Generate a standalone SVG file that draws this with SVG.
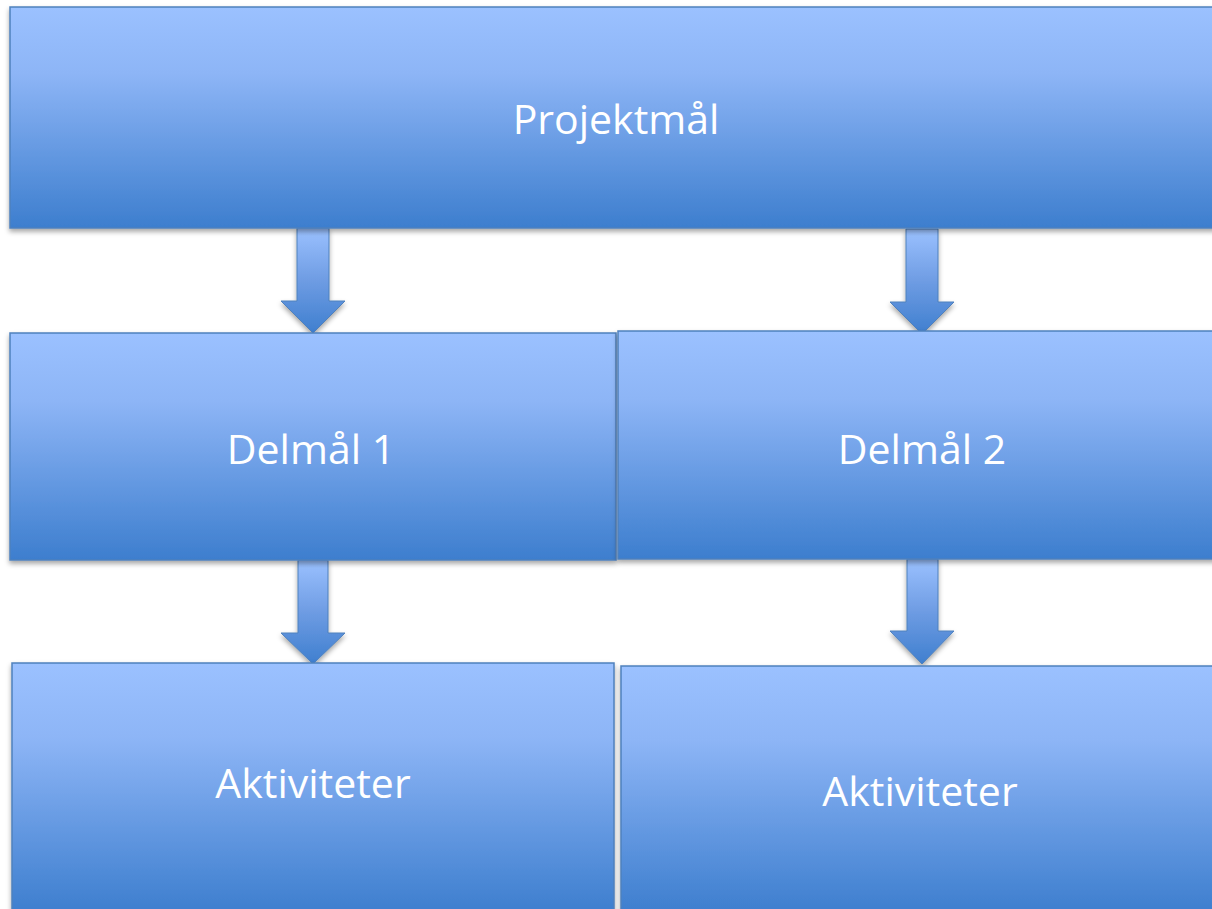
<svg xmlns="http://www.w3.org/2000/svg" width="1212" height="909" viewBox="0 0 1212 909">
  <defs>
    <linearGradient id="boxGrad" x1="0" y1="0" x2="0" y2="1">
      <stop offset="0" stop-color="#9BC1FF"/>
      <stop offset="0.3" stop-color="#8DB5F6"/>
      <stop offset="1" stop-color="#3D7ECE"/>
    </linearGradient>
    <linearGradient id="arrowGrad" x1="0" y1="0" x2="0" y2="1">
      <stop offset="0" stop-color="#9BC1FF"/>
      <stop offset="0.5" stop-color="#6E9CE3"/>
      <stop offset="1" stop-color="#3F7FCF"/>
    </linearGradient>
    <filter id="shadow" x="-10%" y="-10%" width="120%" height="130%">
      <feDropShadow dx="0" dy="3" stdDeviation="2.5" flood-color="#000000" flood-opacity="0.35"/>
    </filter>
  </defs>
  <style>
    .box { fill: url(#boxGrad); stroke: #4F81BD; stroke-width: 1.5; filter: url(#shadow); }
    .arrow { fill: url(#arrowGrad); stroke: #4F81BD; stroke-width: 1; filter: url(#shadow); }
    .label { font-family: "Open Sans", "Noto Sans", "DejaVu Sans", sans-serif; font-size: 41px; fill: #FFFFFF; text-anchor: middle; }
  </style>
  <rect width="1212" height="909" fill="#FFFFFF"/>

  <g id="connectors">
    <path class="arrow" d="M297,228 H329 V301 H345 L313,333 L281,301 H297 Z"/>
    <path class="arrow" d="M906,229 H938 V302 H954 L922,334 L890,302 H906 Z"/>
    <path class="arrow" d="M298,560 H328 V633 H345 L313,664 L281,633 H298 Z"/>
    <path class="arrow" d="M907,559 H938 V631 H954 L922,664 L890,631 H907 Z"/>
  </g>

  <g id="projektmal">
    <rect class="box" x="10" y="7" width="1215" height="221"/>
    <text class="label" x="616" y="134">Projektmål</text>
  </g>

  <g id="delmal1">
    <rect class="box" x="10" y="333" width="606" height="227"/>
    <text class="label" x="311" y="464">Delmål 1</text>
  </g>

  <g id="delmal2">
    <rect class="box" x="618" y="331" width="606" height="228"/>
    <text class="label" x="922" y="464">Delmål 2</text>
  </g>

  <g id="aktiviteter1">
    <rect class="box" x="12" y="663" width="602" height="250"/>
    <text class="label" x="313" y="798">Aktiviteter</text>
  </g>

  <g id="aktiviteter2">
    <rect class="box" x="621" y="666" width="604" height="247"/>
    <text class="label" x="920" y="806">Aktiviteter</text>
  </g>
</svg>
